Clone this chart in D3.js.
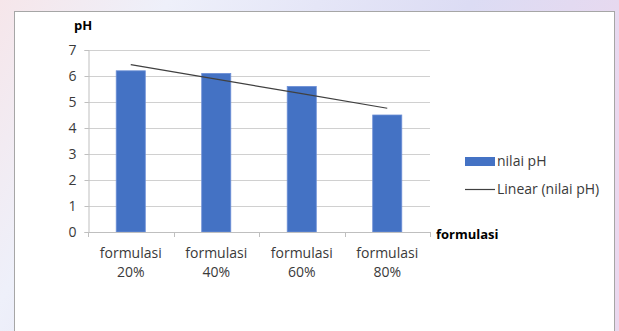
<!DOCTYPE html>
<html>
<head>
<meta charset="UTF-8">
<script src="https://cdn.jsdelivr.net/npm/d3@7"></script>
<style>
  html, body {margin: 0; padding: 0; overflow: hidden}
  svg {display: block}
</style>
</head>
<body>
<svg id="chart" width="619" height="331"></svg>
<script>
// data
const categories = ["formulasi 20%", "formulasi 40%", "formulasi 60%", "formulasi 80%"];
const nilaiPH = [6.2, 6.1, 5.6, 4.5];
const yTicks = [0, 1, 2, 3, 4, 5, 6, 7];

const W = 619, H = 331;
const svg = d3.select("#chart");
const fontFam = "'Open Sans', 'DejaVu Sans', sans-serif";

// pastel background behind the chart box
const defs = svg.append("defs");
const bg = defs.append("linearGradient").attr("id", "bg")
  .attr("x1", 0).attr("y1", 0).attr("x2", 1).attr("y2", 0.3);
bg.append("stop").attr("offset", 0).attr("stop-color", "#f6e6ea");
bg.append("stop").attr("offset", 0.25).attr("stop-color", "#eef0fa");
bg.append("stop").attr("offset", 0.7).attr("stop-color", "#dcdcf4");
bg.append("stop").attr("offset", 1).attr("stop-color", "#ead8ee");
svg.append("rect").attr("width", W).attr("height", H).attr("fill", "url(#bg)");

// white chart box
svg.append("rect").attr("x", 14.5).attr("y", 11.5).attr("width", 600).attr("height", 330)
  .attr("fill", "#fff").attr("stroke", "#a6a6a6");

const plot = {left: 88, right: 430, top: 50, bottom: 232};

const x = d3.scaleBand().domain(categories).range([plot.left, plot.right]).paddingInner(0.66).paddingOuter(0.33);
const xEdge = d3.scaleLinear().domain([0, categories.length]).range([plot.left, plot.right]);
const y = d3.scaleLinear().domain([0, 7]).range([plot.bottom, plot.top]);

// gridlines
svg.append("g").selectAll("line").data(yTicks.filter(d => d > 0)).join("line")
  .attr("x1", plot.left).attr("x2", plot.right)
  .attr("y1", d => Math.round(y(d)) + 0.5).attr("y2", d => Math.round(y(d)) + 0.5)
  .attr("stroke", "#d0d0d0");

// y axis
const yAxis = svg.append("g").attr("transform", `translate(${plot.left + 0.5},0)`)
  .call(d3.axisLeft(y).tickValues(yTicks).tickSize(4).tickPadding(8).tickFormat(d3.format("d")));
yAxis.select(".domain").attr("stroke", "#bfbfbf");
yAxis.selectAll(".tick line").attr("stroke", "#bfbfbf");
yAxis.selectAll("text").attr("font-family", fontFam).attr("font-size", 14).attr("fill", "#3a3a3a");

// bars
svg.append("g").selectAll("rect").data(nilaiPH).join("rect")
  .attr("x", (d, i) => x(categories[i]))
  .attr("width", x.bandwidth())
  .attr("y", d => y(d))
  .attr("height", d => y(0) - y(d))
  .attr("fill", "#4472c4")
  .attr("stroke", "#6d8fd6").attr("stroke-width", 0.8);

// x axis line with ticks at category edges
const xg = svg.append("g");
xg.append("line").attr("x1", plot.left).attr("x2", plot.right)
  .attr("y1", plot.bottom + 0.5).attr("y2", plot.bottom + 0.5).attr("stroke", "#bfbfbf");
xg.selectAll(".tk").data(d3.range(categories.length + 1)).join("line").attr("class", "tk")
  .attr("x1", d => Math.round(xEdge(d)) + 0.5).attr("x2", d => Math.round(xEdge(d)) + 0.5)
  .attr("y1", plot.bottom).attr("y2", plot.bottom + 5).attr("stroke", "#bfbfbf");

// category labels on two lines
const lab = svg.append("g").selectAll("text").data(categories).join("text")
  .attr("text-anchor", "middle")
  .attr("font-family", fontFam).attr("font-size", 14).attr("fill", "#3a3a3a");
lab.each(function (d) {
  const parts = d.split(" ");
  const t = d3.select(this);
  const cx = x(d) + x.bandwidth() / 2;
  parts.forEach((p, k) => t.append("tspan").attr("x", cx).attr("y", 258 + k * 19).text(p));
});

// linear trendline (least squares of the series)
const xs = nilaiPH.map((d, i) => i + 1);
const mx = d3.mean(xs), my = d3.mean(nilaiPH);
const slope = d3.sum(xs, (v, i) => (v - mx) * (nilaiPH[i] - my)) / d3.sum(xs, v => (v - mx) ** 2);
const icpt = my - slope * mx;
const trend = xs.map((v, i) => [x(categories[i]) + x.bandwidth() / 2, y(icpt + slope * v)]);
svg.append("path").datum(trend)
  .attr("d", d3.line())
  .attr("fill", "none").attr("stroke", "#404040").attr("stroke-width", 1.2);

// axis titles
svg.append("text").attr("x", 74).attr("y", 30)
  .attr("font-family", fontFam).attr("font-size", 13).attr("font-weight", "bold").attr("fill", "#000")
  .text("pH");
svg.append("text").attr("x", 436).attr("y", 239)
  .attr("font-family", fontFam).attr("font-size", 13).attr("font-weight", "bold").attr("fill", "#000")
  .text("formulasi");

// legend
const leg = svg.append("g");
leg.append("rect").attr("x", 465).attr("y", 157).attr("width", 30).attr("height", 9).attr("fill", "#4472c4");
leg.append("text").attr("x", 497).attr("y", 166)
  .attr("font-family", fontFam).attr("font-size", 14).attr("fill", "#3a3a3a").text("nilai pH");
leg.append("line").attr("x1", 465).attr("x2", 495).attr("y1", 189.5).attr("y2", 189.5)
  .attr("stroke", "#404040").attr("stroke-width", 1.2);
leg.append("text").attr("x", 497).attr("y", 194)
  .attr("font-family", fontFam).attr("font-size", 14).attr("fill", "#3a3a3a").text("Linear (nilai pH)");
</script>
</body>
</html>
